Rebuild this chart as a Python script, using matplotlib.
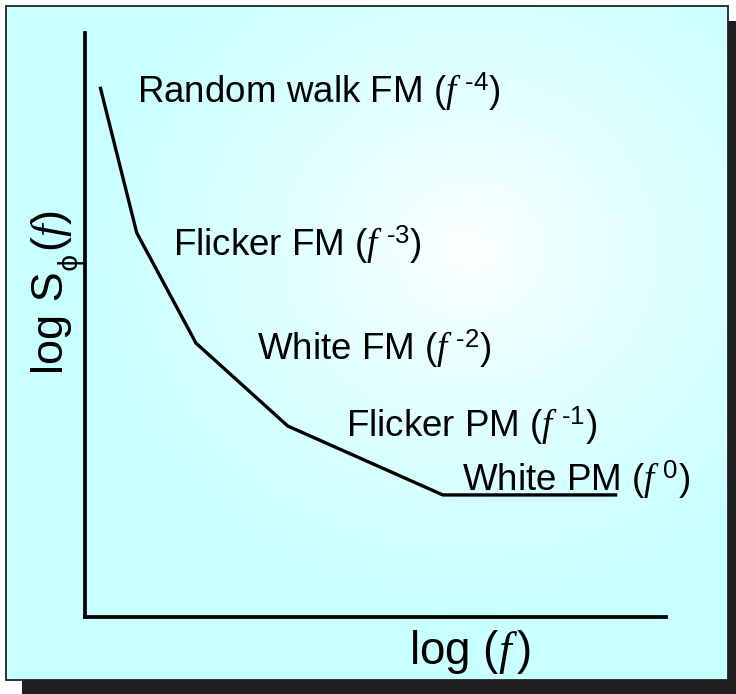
import numpy as np
import matplotlib
matplotlib.use("Agg")
import matplotlib.pyplot as plt
from matplotlib.patches import Rectangle

plt.rcParams['font.family'] = ['Liberation Sans', 'DejaVu Sans']
plt.rcParams['mathtext.fontset'] = 'custom'
plt.rcParams['mathtext.rm'] = 'Liberation Sans'
plt.rcParams['mathtext.sf'] = 'Liberation Sans'
plt.rcParams['mathtext.it'] = 'Liberation Serif:italic'
plt.rcParams['mathtext.bf'] = 'Liberation Sans:bold'
plt.rcParams['mathtext.fallback'] = 'stixsans'

# ---- data (schematic log-log power-law spectrum) ----
log_f = [0.26, 0.89, 1.91, 3.49, 6.16, 9.16]
log_S = [9.08, 6.58, 4.69, 3.27, 2.09, 2.09]
noise_names = ['Random walk FM', 'Flicker FM', 'White FM', 'Flicker PM', 'White PM']
exponents = ['-4', '-3', '-2', '-1', '0']

W, H = 736, 694
fig = plt.figure(figsize=(W / 100, H / 100), dpi=100)
fig.patch.set_facecolor('white')

# background / frame axes in pixel units
bg = fig.add_axes([0, 0, 1, 1])
bg.axis('off')

bg.add_patch(Rectangle((22, 21), W - 22, H - 21, facecolor='#1e1e1e',
                       edgecolor='none', zorder=0))

yy, xx = np.mgrid[0:H, 0:W] + 0.5
cx, cy = 470, 250
t = np.sqrt(((xx - cx) / 400.0) ** 2 + ((yy - cy) / 370.0) ** 2)
t = np.clip(t, 0, 1) ** 0.75
white = np.array([1.0, 1.0, 1.0])
cyan = np.array([200, 255, 255]) / 255.0
img = white[None, None, :] * (1 - t[..., None]) + cyan[None, None, :] * t[..., None]
im = bg.imshow(img, extent=(0, W, H, 0), zorder=1, interpolation='bilinear')
clip = Rectangle((6, 6), 722, 674, transform=bg.transData, facecolor='none')
im.set_clip_path(clip)
bg.add_patch(Rectangle((6, 6), 722, 674, facecolor='none', edgecolor='#222222',
                       lw=1.3, zorder=3))
bg.set_xlim(0, W)
bg.set_ylim(H, 0)
bg.set_aspect('auto')

# main axes
ax = fig.add_axes([85 / W, (H - 617) / H, (666 - 85) / W, (617 - 33) / H])
ax.patch.set_visible(False)
ax.set_xlim(0, 10)
ax.set_ylim(0, 10)
for s in ['top', 'right']:
    ax.spines[s].set_visible(False)
for s in ['left', 'bottom']:
    ax.spines[s].set_linewidth(2.7)
    ax.spines[s].set_capstyle('projecting')
ax.set_xticks([])
ax.set_yticks([])

ax.plot(log_f, log_S, color='black', lw=2.4, solid_joinstyle='round',
        solid_capstyle='butt', zorder=5)

label_pos = [(137, 103), (173, 256), (257, 360), (346, 437), (462, 491)]
for (px, py), name, e in zip(label_pos, noise_names, exponents):
    bg.text(px, py, name + r' ($f^{\,\,\text{' + e + r'}}$)', fontsize=26.5,
            ha='left', va='baseline', zorder=6)

# y label built from pieces so the phi subscript can sit low, as in the original
renderer = fig.canvas.get_renderer()
t1 = bg.text(63, 374, 'log S', fontsize=32.5, rotation=90,
             rotation_mode='anchor', ha='left', va='baseline', zorder=6)
top1 = H - t1.get_window_extent(renderer).y1
t2 = bg.text(77, top1 - 1, 'ϕ', fontsize=19, family='DejaVu Sans', rotation=90,
             rotation_mode='anchor', ha='left', va='baseline', zorder=6)
top2 = H - t2.get_window_extent(renderer).y1
bg.text(63, top2 - 1, r'($f$)', fontsize=32.5, rotation=90,
        rotation_mode='anchor', ha='left', va='baseline', zorder=6)

bg.text(470, 664, r'log ($f\,$)', fontsize=33, ha='center', va='baseline', zorder=6)

fig.savefig('out.png', dpi=100)
